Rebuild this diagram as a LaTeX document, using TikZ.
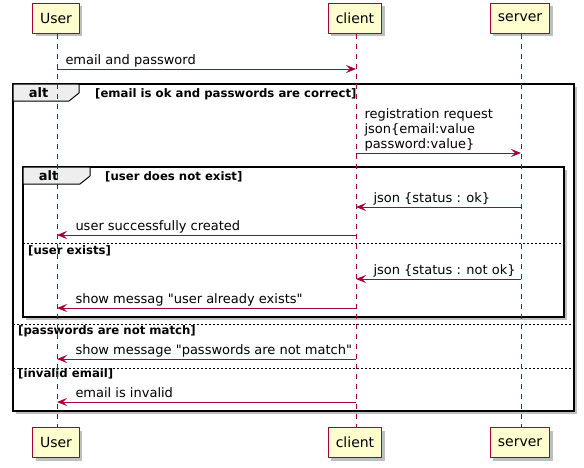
\documentclass[tikz,border=0pt]{standalone}
\usepackage{fontspec}
\setmainfont{DejaVu Sans}[Ligatures=TeXOff]
\usetikzlibrary{arrows.meta, shadows}
\definecolor{umlred}{HTML}{A80036}
\definecolor{umlfill}{HTML}{FEFECE}
\definecolor{tabgray}{HTML}{EEEEEE}

\begin{document}
\begin{tikzpicture}[x=1pt, y=-1pt,
  actor/.style={draw=umlred, fill=umlfill, line width=1pt, minimum height=30pt, inner xsep=7.5pt,
    font=\fontsize{14}{16}\selectfont,
    drop shadow={shadow xshift=3pt, shadow yshift=-3pt, fill=black, opacity=.25}},
  life/.style={umlred, line width=1pt, dash pattern=on 5pt off 5pt},
  msg/.style={umlred, line width=1pt, -{Stealth[length=10pt, width=8pt, inset=4pt]}},
  lbl/.style={anchor=base west, inner sep=0pt, text=black, font=\fontsize{13}{15}\selectfont},
  frame/.style={draw, line width=1.5pt, fill=white,
    drop shadow={shadow xshift=3pt, shadow yshift=-3pt, fill=black, opacity=.25}},
  tab/.style={draw, line width=1pt, fill=tabgray},
  altlbl/.style={anchor=base, inner sep=0pt, font=\bfseries\fontsize{13}{15}\selectfont},
  cond/.style={anchor=base west, inner sep=0pt, font=\bfseries\fontsize{11.7}{13}\selectfont},
  sep/.style={line width=1pt, dash pattern=on 2pt off 2pt}]
  \useasboundingbox (0,0) rectangle (584,467);

  % alt frames
  \draw[frame] (13,84) rectangle (574,411);
  \draw[tab] (13,84) -- (79,84) -- (79,93) -- (69,101) -- (13,101) -- cycle;
  \node[altlbl] (alt1) at (38.5,97) {alt};
  \node[cond] (cond1) at (95,97) {[email is ok and passwords are correct]};
  \draw[frame] (23,167) rectangle (564,317);
  \draw[tab] (23,167) -- (90,167) -- (90,176) -- (80,184) -- (23,184) -- cycle;
  \node[altlbl] (alt2) at (48.5,180) {alt};
  \node[cond] (cond2) at (105,180) {[user does not exist]};
  \draw[sep] (23,243) -- (564,243);
  \node[cond] (cond3) at (28,254) {[user exists]};
  \draw[sep] (13,324) -- (574,324);
  \node[cond] (cond4) at (18,334) {[passwords are not match]};
  \draw[sep] (13,368) -- (574,368);
  \node[cond] (cond5) at (18,377) {[invalid email]};

  % participants, top and bottom
  \node[actor] (userTop) at (56,18) {User};
  \node[actor] (clientTop) at (355,18) {client};
  \node[actor] (serverTop) at (520,18) {server};
  \node[actor] (userBot) at (56,442.5) {User};
  \node[actor] (clientBot) at (355,442.5) {client};
  \node[actor] (serverBot) at (520,442.5) {server};

  % lifelines
  \foreach \p in {user, client, server}
    \draw[life] ([xshift=1pt]\p Top.south) -- ([xshift=1pt]\p Bot.north);

  % one point per message row on every lifeline
  \foreach \r/\y in {1/69, 2/153, 3/207, 4/235, 5/279, 6/308, 7/359, 8/402}
    \foreach \p in {user, client, server}
      \coordinate (\p\r) at ([xshift=1pt]\p Top.center |- 0,\y);

  % messages
  \draw[msg] (user1) node[lbl, shift={(8,-5)}] (m1) {email and password} -- (client1);
  \draw[msg] (client2) node[lbl, align=left, shift={(8,-5)}] (m2)
    {registration request\\json\{email:value\\password:value\}} -- (server2);
  \draw[msg] (server3) -- (client3) node[lbl, shift={(17,-5)}] (m3) {json \{status : ok\}};
  \draw[msg] (client4) -- (user4) node[lbl, shift={(18,-5)}] (m4) {user successfully created};
  \draw[msg] (server5) -- (client5) node[lbl, shift={(17,-5)}] (m5) {json \{status : not ok\}};
  \draw[msg] (client6) -- (user6) node[lbl, shift={(18,-5)}] (m6) {show messag "user already exists"};
  \draw[msg] (client7) -- (user7) node[lbl, shift={(18,-5)}] (m7) {show message "passwords are not match"};
  \draw[msg] (client8) -- (user8) node[lbl, shift={(18,-5)}] (m8) {email is invalid};
\end{tikzpicture}
\end{document}
